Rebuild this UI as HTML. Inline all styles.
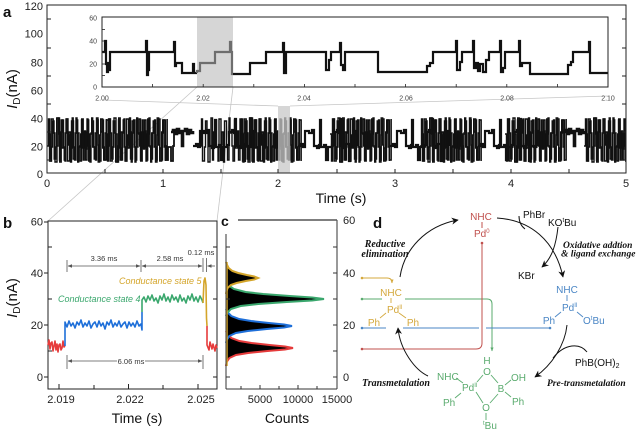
<!DOCTYPE html>
<html><head><meta charset="utf-8">
<style>
html,body{margin:0;padding:0;background:#fff;}
svg{display:block;}
text{font-family:"Liberation Sans",Arial,sans-serif;}
text.ser{font-family:"Liberation Serif",serif;font-weight:bold;font-style:italic;}
</style></head><body>
<svg width="639" height="431" viewBox="0 0 639 431" xmlns="http://www.w3.org/2000/svg">
<defs>
<clipPath id="ca"><rect x="47.5" y="5.5" width="578" height="167"/></clipPath>
<path id="t1" d="M0 146h1.5V119h1V161h2V147h1V121h1.5V133h1V162h2V146h1V118h1.5V160h1V132h2V120h1V147h1.5V161h1V119h2V145h1V132h1.5V162h1V121h2V147h1V160h1.5V118h1V133h2V146h1V161h1.5V120h1V148h2V131h1V160h1.5V119h1V146h2V162h1V133h1.5V121h1V147h2V160h1V118h1.5V145h1V161h2V132h1V120h1.5V147h1V160h2V119"/>
<path id="t2" d="M0 146h3V144h2V147h2V131h4V133h3V130h2V146h3V148h2V145h1V120h1V147h3V145h2V160h2V147h4V145h2V132h3V130h2V133h1V119h1V146h3V148h2V144h3V161h1V146h4V147h2V131h2V146"/>
<path id="t3" d="M0 132h2V130h2V134h2V129h2V133h2V131h1V146h1V131h2V129h2V134h2V130h2V133h2V131"/>
<marker id="ab" viewBox="0 0 10 10" refX="9" refY="5" markerUnits="userSpaceOnUse" markerWidth="7" markerHeight="7" orient="auto"><path d="M0 0 L10 5 L0 10 L3 5 z" fill="#111"/></marker>
<marker id="ag" viewBox="0 0 10 10" refX="9" refY="5" markerUnits="userSpaceOnUse" markerWidth="4.5" markerHeight="4.5" orient="auto-start-reverse"><path d="M0 1 L10 5 L0 9 z" fill="#555"/></marker>
<marker id="ay" viewBox="0 0 10 10" refX="9" refY="5" markerUnits="userSpaceOnUse" markerWidth="4" markerHeight="4" orient="auto"><path d="M0 1 L10 5 L0 9 z" fill="#d4a83c"/></marker>
<marker id="agr" viewBox="0 0 10 10" refX="9" refY="5" markerUnits="userSpaceOnUse" markerWidth="4" markerHeight="4" orient="auto"><path d="M0 1 L10 5 L0 9 z" fill="#5aab6e"/></marker>
</defs>
<rect x="0" y="0" width="639" height="431" fill="#fff"/>

<!-- zoom connector lines -->
<g stroke="#c6c6c6" stroke-width="0.8" fill="none">
<line x1="197" y1="87" x2="48" y2="221"/>
<line x1="233" y1="87" x2="217" y2="221"/>
<line x1="278" y1="106" x2="102" y2="100"/>
<line x1="290" y1="106" x2="608" y2="96"/>
</g>

<!-- PANEL A main trace -->
<g clip-path="url(#ca)" stroke="#111" stroke-width="1.4" fill="none">
<use href="#t1" x="47"/>
<use href="#t1" transform="translate(48.7,280) scale(1,-1)"/>
<use href="#t1" transform="translate(106,280) scale(1,-1)"/>
<use href="#t1" x="107.7"/>
<path d="M164 146h2V160h2V147h3V161h2V146h1V132" stroke-width="1.8"/>
<use href="#t3" x="171" stroke-width="2.6"/>
<use href="#t2" x="193" stroke-width="2.2"/>
<use href="#t1" x="200" transform="translate(0,0)"/>
<use href="#t1" x="240"/>
<use href="#t1" transform="translate(241.7,280) scale(1,-1)"/>
<use href="#t2" x="298" stroke-width="2.2"/>
<use href="#t1" transform="translate(330,280) scale(1,-1)"/>
<use href="#t1" x="331.7"/>
<use href="#t2" x="390" stroke-width="2.2"/>
<use href="#t1" x="420"/>
<use href="#t1" transform="translate(421.7,280) scale(1,-1)"/>
<use href="#t2" x="478" stroke-width="2.2"/>
<use href="#t1" transform="translate(505,280) scale(1,-1)"/>
<use href="#t1" x="506.7"/>
<use href="#t3" x="563" stroke-width="2.6"/>
<use href="#t1" x="584"/>
<use href="#t1" transform="translate(585.7,280) scale(1,-1)"/>
</g>
<rect x="278" y="106" width="12" height="67" fill="#c8c8c8" fill-opacity="0.75"/>
<rect x="47" y="5" width="579" height="168" fill="none" stroke="#222" stroke-width="1"/>
<!-- panel a ticks -->
<g stroke="#222" stroke-width="1">
<line x1="47" y1="160" x2="51" y2="160"/><line x1="47" y1="132" x2="51" y2="132"/><line x1="47" y1="104" x2="51" y2="104"/><line x1="47" y1="76" x2="51" y2="76"/><line x1="47" y1="48" x2="51" y2="48"/><line x1="47" y1="19" x2="51" y2="19"/>
<line x1="622" y1="160" x2="626" y2="160"/><line x1="622" y1="132" x2="626" y2="132"/><line x1="622" y1="104" x2="626" y2="104"/><line x1="622" y1="76" x2="626" y2="76"/><line x1="622" y1="48" x2="626" y2="48"/><line x1="622" y1="19" x2="626" y2="19"/>
<line x1="105" y1="173" x2="105" y2="169"/><line x1="163" y1="173" x2="163" y2="169"/><line x1="221" y1="173" x2="221" y2="169"/><line x1="278" y1="173" x2="278" y2="169"/><line x1="337" y1="173" x2="337" y2="169"/><line x1="395" y1="173" x2="395" y2="169"/><line x1="453" y1="173" x2="453" y2="169"/><line x1="511" y1="173" x2="511" y2="169"/><line x1="569" y1="173" x2="569" y2="169"/>
</g>
<g font-size="11" fill="#222" text-anchor="end">
<text x="43" y="178">0</text><text x="43" y="150.5">20</text><text x="43" y="122.7">40</text><text x="43" y="94.5">60</text><text x="43" y="66.5">80</text><text x="43" y="37.5">100</text><text x="43" y="10">120</text>
</g>
<g font-size="11" fill="#222" text-anchor="middle">
<text x="47" y="187">0</text><text x="163" y="187">1</text><text x="278" y="187">2</text><text x="395" y="187">3</text><text x="511" y="187">4</text><text x="626" y="187">5</text>
</g>
<text x="341" y="203" font-size="14" text-anchor="middle" fill="#111">Time (s)</text>
<text transform="translate(17,89) rotate(-90)" font-size="15" text-anchor="middle" fill="#111"><tspan font-style="italic">I</tspan><tspan font-size="10" dy="3">D</tspan><tspan dy="-3">(nA)</tspan></text>
<text x="3" y="17" font-size="15" font-weight="bold" fill="#111">a</text>

<!-- INSET -->
<rect x="102" y="17" width="506" height="70" fill="#fff"/>
<rect x="197" y="17" width="36" height="70" fill="#d6d6d6"/>
<path fill="none" stroke="#111" stroke-width="2.2" d="M102 52 H105 V41 H106 V64 H107 V72 H108 V63 H109 V70 H110 V52 H146 V41 H147 V75 H148 V70 H149 V52 H174 V42 H175 V66 H176 V63 H182 V73 H193 V64 H194 V73 H197"/>
<path fill="none" stroke="#6e6e6e" stroke-width="2.2" d="M197 73 V71 H200 V63 H215 V52 H230 V42 H231 V52 H232 V74 H233"/>
<path fill="none" stroke="#111" stroke-width="2.2" d="M233 74 H250 V63 H266 V52 H283 V43 H284 V73 H286 V52 H326 V70 H329 V60 H331 V52 H340 V43 H341 V65 H343 V70 H345 V52 H378 V72 H427 V66 H430 V63 H433 V52 H456 V41 H457 V70 H460 V62 H462 V52 H473 V41 H474 V68 H476 V63 H478 V71 H480 V64 H483 V72 H486 V60 H489 V52 H500 V41 H501 V72 H503 V68 H505 V52 H519 V41 H520 V66 H522 V63 H530 V74 H568 V65 H571 V62 H573 V52 H589 V42 H590 V73 H608"/>
<rect x="102" y="17" width="506" height="70" fill="none" stroke="#222" stroke-width="1"/>
<g stroke="#222" stroke-width="0.8">
<line x1="102" y1="75.5" x2="105" y2="75.5"/><line x1="102" y1="64" x2="105" y2="64"/><line x1="102" y1="52.5" x2="105" y2="52.5"/><line x1="102" y1="41" x2="105" y2="41"/><line x1="102" y1="29.5" x2="105" y2="29.5"/>
<line x1="152.6" y1="87" x2="152.6" y2="84"/><line x1="203.2" y1="87" x2="203.2" y2="84"/><line x1="253.8" y1="87" x2="253.8" y2="84"/><line x1="304.4" y1="87" x2="304.4" y2="84"/><line x1="355" y1="87" x2="355" y2="84"/><line x1="405.6" y1="87" x2="405.6" y2="84"/><line x1="456.2" y1="87" x2="456.2" y2="84"/><line x1="506.8" y1="87" x2="506.8" y2="84"/><line x1="557.4" y1="87" x2="557.4" y2="84"/>
</g>
<g font-size="7" fill="#444" text-anchor="end">
<text x="97" y="20.5">60</text><text x="97" y="43.5">40</text><text x="97" y="66.5">20</text><text x="97" y="89.5">0</text>
</g>
<g font-size="7" fill="#444" text-anchor="middle">
<text x="102" y="100.5">2.00</text><text x="203" y="100.5">2.02</text><text x="304" y="100.5">2.04</text><text x="406" y="100.5">2.06</text><text x="507" y="100.5">2.08</text><text x="608" y="100.5">2.10</text>
</g>

<!-- PANEL B -->
<rect x="48" y="221" width="169" height="168" fill="none" stroke="#222" stroke-width="1"/>
<g stroke="#222" stroke-width="1">
<line x1="44" y1="222" x2="48" y2="222"/><line x1="44" y1="273" x2="48" y2="273"/><line x1="44" y1="325" x2="48" y2="325"/><line x1="44" y1="377" x2="48" y2="377"/>
<line x1="48" y1="247" x2="52" y2="247"/><line x1="48" y1="299" x2="52" y2="299"/><line x1="48" y1="351" x2="52" y2="351"/>
<line x1="213" y1="247" x2="217" y2="247"/><line x1="213" y1="299" x2="217" y2="299"/><line x1="213" y1="377" x2="217" y2="377"/>
<line x1="59" y1="389" x2="59" y2="384"/><line x1="94" y1="389" x2="94" y2="385"/><line x1="128.5" y1="389" x2="128.5" y2="384"/><line x1="163" y1="389" x2="163" y2="385"/><line x1="198" y1="389" x2="198" y2="384"/>
</g>
<g font-size="11" fill="#222" text-anchor="end">
<text x="43" y="225.5">60</text><text x="43" y="277">40</text><text x="43" y="329">20</text><text x="43" y="381">0</text>
</g>
<g font-size="11" fill="#222" text-anchor="middle">
<text x="61" y="403">2.019</text><text x="130" y="403">2.022</text><text x="201" y="403">2.025</text>
</g>
<text x="137" y="423" font-size="14" text-anchor="middle" fill="#111">Time (s)</text>
<text transform="translate(17,298) rotate(-90)" font-size="15" text-anchor="middle" fill="#111"><tspan font-style="italic">I</tspan><tspan font-size="10" dy="3">D</tspan><tspan dy="-3">(nA)</tspan></text>
<text x="3" y="228" font-size="15" font-weight="bold" fill="#111">b</text>

<!-- panel b traces -->
<g fill="none" stroke-width="1.6" stroke-linejoin="round">
<path stroke="#e63b3b" d="M48 345 L49 340 L50 349 L51 343 L52 342 L53 351 L54 346 L55 341 L56 350 L57 344 L58 352 L59 345 L60 344 L61 350 L62 348 L63 341 L64 347 L65 346"/>
<path stroke="#1e6fd9" d="M65 346 L65 322 L67 327 L69 321 L71 326 L73 323 L75 328 L77 322 L79 325 L81 320 L83 327 L85 323 L87 326 L89 321 L91 328 L93 324 L95 322 L97 327 L99 321 L101 326 L103 323 L105 329 L107 322 L109 325 L111 320 L113 327 L115 323 L117 326 L119 321 L121 327 L123 324 L125 322 L127 328 L129 322 L131 326 L133 323 L135 327 L137 321 L139 326 L141 324 L142 330 L142 312"/>
<path stroke="#3aa76d" d="M142 312 L142 300 L144 297 L146 302 L148 296 L150 300 L152 295 L154 301 L156 298 L158 303 L160 296 L162 300 L164 294 L166 301 L168 297 L170 302 L172 295 L174 300 L176 297 L178 302 L180 295 L182 301 L184 298 L186 303 L188 296 L190 300 L192 294 L194 301 L196 297 L198 302 L200 296 L202 300 L203 303"/>
<path stroke="#d4a52a" d="M203 303 L204 281 L205 278 L206 285 L206.5 318 L207 326"/>
<path stroke="#e63b3b" d="M207 326 L207 345 L209 350 L210 342 L212 349 L213 344 L215 351 L216 345 L217 348"/>
</g>
<!-- dimension annotations -->
<g stroke="#555" stroke-width="0.8" fill="none">
<line x1="67" y1="260" x2="67" y2="272"/><line x1="141" y1="260" x2="141" y2="272"/><line x1="203" y1="258" x2="203" y2="272"/><line x1="206.5" y1="258" x2="206.5" y2="272"/>
<line x1="68" y1="266" x2="140" y2="266" marker-start="url(#ag)" marker-end="url(#ag)"/>
<line x1="142" y1="266" x2="202" y2="266" marker-start="url(#ag)" marker-end="url(#ag)"/>
<line x1="215" y1="266" x2="207.5" y2="266" marker-end="url(#ag)"/>
<line x1="67" y1="355" x2="67" y2="369"/><line x1="203" y1="355" x2="203" y2="369"/>
<line x1="68" y1="361" x2="202" y2="361" marker-start="url(#ag)" marker-end="url(#ag)"/>
</g>
<rect x="117" y="356" width="28" height="10" fill="#fff"/>
<g font-size="7.5" fill="#333" text-anchor="middle">
<text x="104" y="261">3.36 ms</text><text x="170" y="261">2.58 ms</text><text x="201" y="255">0.12 ms</text><text x="131" y="364">6.06 ms</text>
</g>
<text x="58" y="302" font-size="9" font-style="italic" fill="#3aa76d">Conductance state 4</text>
<text x="119" y="284" font-size="9" font-style="italic" fill="#d4a52a">Conductance state 5</text>

<!-- PANEL C -->
<polygon fill="#000" points="226,331 227.3,334 231.4,338 239.4,341 251.5,343 269.6,345 285,346.5 293,348 285,349.5 267.5,351 248.1,353 236,355 229.4,358 226.7,362 226,366"/>
<polyline fill="none" stroke="#e63b3b" stroke-width="2" points="226,331 227.3,334 231.4,338 239.4,341 251.5,343 269.6,345 285,346.5 293,348 285,349.5 267.5,351 248.1,353 236,355 229.4,358 226.7,362 226,366"/>
<polygon fill="#000" points="226,309 227.3,312 231.3,316 239.2,319 251.1,321 268.9,323 284.1,324.5 292,326 284.1,327.5 266.9,329 247.8,331 235.9,333 229.3,336 226.7,340 226,343"/>
<polyline fill="none" stroke="#1e6fd9" stroke-width="2" points="226,309 227.3,312 231.3,316 239.2,319 251.1,321 268.9,323 284.1,324.5 292,326 284.1,327.5 266.9,329 247.8,331 235.9,333 229.3,336 226.7,340 226,343"/>
<polygon fill="#000" points="226,283 228,285 233.8,289 245.6,292 263.2,294 289.7,296 312.2,297.5 324,299 312.2,300.5 286.8,302 258.3,304 240.7,306 230.9,309 227,313 226,316"/>
<polyline fill="none" stroke="#3aa76d" stroke-width="2" points="226,283 228,285 233.8,289 245.6,292 263.2,294 289.7,296 312.2,297.5 324,299 312.2,300.5 286.8,302 258.3,304 240.7,306 230.9,309 227,313 226,316"/>
<polygon fill="#000" points="226,262 226.6,264 228.6,268 232.4,271 238.2,273 246.8,275 254.2,276.5 258,278 254.2,279.5 245.8,281 236.6,283 230.8,285 227.6,288 226.3,292 226,294"/>
<polyline fill="none" stroke="#d4a52a" stroke-width="2" points="226,262 226.6,264 228.6,268 232.4,271 238.2,273 246.8,275 254.2,276.5 258,278 254.2,279.5 245.8,281 236.6,283 230.8,285 227.6,288 226.3,292 226,294"/>
<line x1="227" y1="262" x2="227" y2="366" stroke="#d4a52a" stroke-width="1.5"/>
<g stroke="#333" stroke-width="1" fill="none">
<line x1="226" y1="234" x2="226" y2="389"/>
<line x1="226" y1="389" x2="337" y2="389"/>
<line x1="337" y1="220" x2="337" y2="389"/>
<line x1="238" y1="220" x2="337" y2="220" stroke="#555" stroke-width="1.4"/>
<line x1="226" y1="247" x2="230" y2="247"/><line x1="226" y1="299" x2="230" y2="299"/><line x1="226" y1="377" x2="230" y2="377"/>
<line x1="333" y1="273" x2="337" y2="273"/><line x1="333" y1="325" x2="337" y2="325"/><line x1="333" y1="377" x2="337" y2="377"/><line x1="333" y1="247" x2="337" y2="247"/><line x1="333" y1="299" x2="337" y2="299"/><line x1="333" y1="351" x2="337" y2="351"/>
<line x1="241" y1="389" x2="241" y2="386"/><line x1="260" y1="389" x2="260" y2="385"/><line x1="279" y1="389" x2="279" y2="386"/><line x1="298" y1="389" x2="298" y2="385"/><line x1="317" y1="389" x2="317" y2="386"/>
</g>
<g font-size="11" fill="#222">
<text x="343" y="224">60</text><text x="343" y="277">40</text><text x="343" y="329">20</text><text x="343" y="381">0</text>
</g>
<g font-size="11" fill="#222" text-anchor="middle">
<text x="260" y="403">5000</text><text x="298" y="403">10000</text><text x="337" y="403">15000</text>
</g>
<text x="287" y="423" font-size="14" text-anchor="middle" fill="#111">Counts</text>
<text x="221" y="226" font-size="14" font-weight="bold" fill="#111">c</text>

<!-- PANEL D -->
<text x="373" y="228" font-size="15" font-weight="bold" fill="#111">d</text>
<g fill="none" stroke-width="1">
<path stroke="#d4a83c" d="M362 278 H387 Q392 278 392 283" marker-end="url(#ay)"/>
<path stroke="#5aab6e" d="M362 299 H382 M405 299 H487 Q492 299 492 304 V351" marker-end="url(#agr)"/>
<path stroke="#4a86c5" d="M362 328 H386 M403 328 H479 M486 328 H549"/>
<path stroke="#c0504d" d="M482 244 V343 Q482 349 476 349 H363"/>
</g>
<circle cx="362" cy="278" r="1.3" fill="#d4a83c"/>
<circle cx="362" cy="299" r="1.3" fill="#5aab6e"/>
<circle cx="362" cy="328" r="1.3" fill="#4a86c5"/>
<circle cx="550" cy="328" r="1.3" fill="#4a86c5"/>
<circle cx="362" cy="349" r="1.3" fill="#c0504d"/>
<circle cx="482" cy="243" r="1.3" fill="#c0504d"/>

<g fill="none" stroke="#111" stroke-width="1">
<path d="M400 277 C404 250 425 226 458 220" marker-end="url(#ab)"/>
<path d="M497 218 C530 220 555 240 563 277" marker-end="url(#ab)"/>
<path d="M519 216 C519 222 521 226 525 229"/>
<path d="M558 227 C556 245 552 258 542 267" marker-end="url(#ab)"/>
<path d="M567 325 C565 345 552 365 535 377" marker-end="url(#ab)"/>
<path d="M587 352 C580 343 565 343 553 358"/>
<path d="M428 376 C415 370 400 350 398 328" marker-end="url(#ab)"/>
</g>

<g fill="#c0504d" font-size="10">
<text x="481" y="220" text-anchor="middle">NHC</text>
<text x="474" y="237">Pd<tspan font-size="6" dy="-4">0</tspan></text>
</g>
<line x1="482" y1="222" x2="482" y2="228" stroke="#c0504d" stroke-width="1"/>

<g fill="#d4a83c" font-size="10">
<text x="391" y="296" text-anchor="middle">NHC</text>
<text x="387" y="313">Pd<tspan font-size="6" dy="-4">II</tspan></text>
<text x="374" y="326" text-anchor="middle">Ph</text>
<text x="413" y="326" text-anchor="middle">Ph</text>
</g>
<g stroke="#d4a83c" stroke-width="0.9">
<line x1="391" y1="298" x2="391" y2="303"/>
<line x1="386" y1="313" x2="380" y2="318"/>
<line x1="399" y1="313" x2="406" y2="318"/>
</g>

<g fill="#4a86c5" font-size="10">
<text x="567" y="293" text-anchor="middle">NHC</text>
<text x="562" y="311">Pd<tspan font-size="6" dy="-4">II</tspan></text>
<text x="549" y="324" text-anchor="middle">Ph</text>
<text x="583" y="324">O<tspan font-size="6" dy="-4">t</tspan><tspan dy="4">Bu</tspan></text>
</g>
<g stroke="#4a86c5" stroke-width="0.9">
<line x1="567" y1="295" x2="567" y2="301"/>
<line x1="561" y1="312" x2="555" y2="317"/>
<line x1="577" y1="312" x2="583" y2="317"/>
</g>

<g fill="#5aab6e" font-size="10">
<text x="487" y="364" text-anchor="middle">H</text>
<text x="487" y="375" text-anchor="middle">O</text>
<text x="437" y="380">NHC</text>
<text x="462" y="391">Pd<tspan font-size="6" dy="-4">II</tspan></text>
<text x="443" y="406">Ph</text>
<text x="501" y="392" text-anchor="middle">B</text>
<text x="511" y="381">OH</text>
<text x="512" y="405">Ph</text>
<text x="486" y="411" text-anchor="middle">O</text>
<text x="483" y="429"><tspan font-size="6" dy="-4">t</tspan><tspan dy="4">Bu</tspan></text>
</g>
<g stroke="#5aab6e" stroke-width="0.9">
<line x1="456" y1="378" x2="463" y2="383"/>
<line x1="461" y1="393" x2="455" y2="398"/>
<line x1="477" y1="382" x2="483" y2="375"/>
<line x1="491" y1="375" x2="498" y2="383"/>
<line x1="505" y1="385" x2="511" y2="380"/>
<line x1="505" y1="392" x2="511" y2="397"/>
<line x1="476" y1="392" x2="483" y2="403"/>
<line x1="490" y1="403" x2="498" y2="394"/>
<line x1="486" y1="420" x2="486" y2="413"/>
</g>

<g fill="#111" font-size="10">
<text x="523" y="218">PhBr</text>
<text x="548" y="226">KO<tspan font-size="6" dy="-4">t</tspan><tspan dy="4">Bu</tspan></text>
<text x="518" y="279">KBr</text>
<text x="575" y="366">PhB(OH)<tspan font-size="7" dy="2">2</tspan></text>
</g>

<g fill="#111" font-size="10">
<text class="ser" x="385" y="247" text-anchor="middle">Reductive</text>
<text class="ser" x="385" y="257" text-anchor="middle">elimination</text>
<text class="ser" x="362" y="386">Transmetalation</text>
</g>
<g fill="#111" font-size="9.5">
<text class="ser" x="563" y="248">Oxidative addtion</text>
<text class="ser" x="561" y="256.5">&amp; ligand exchange</text>
<text class="ser" x="547" y="386">Pre-transmetalation</text>
</g>
</svg>
</body></html>
